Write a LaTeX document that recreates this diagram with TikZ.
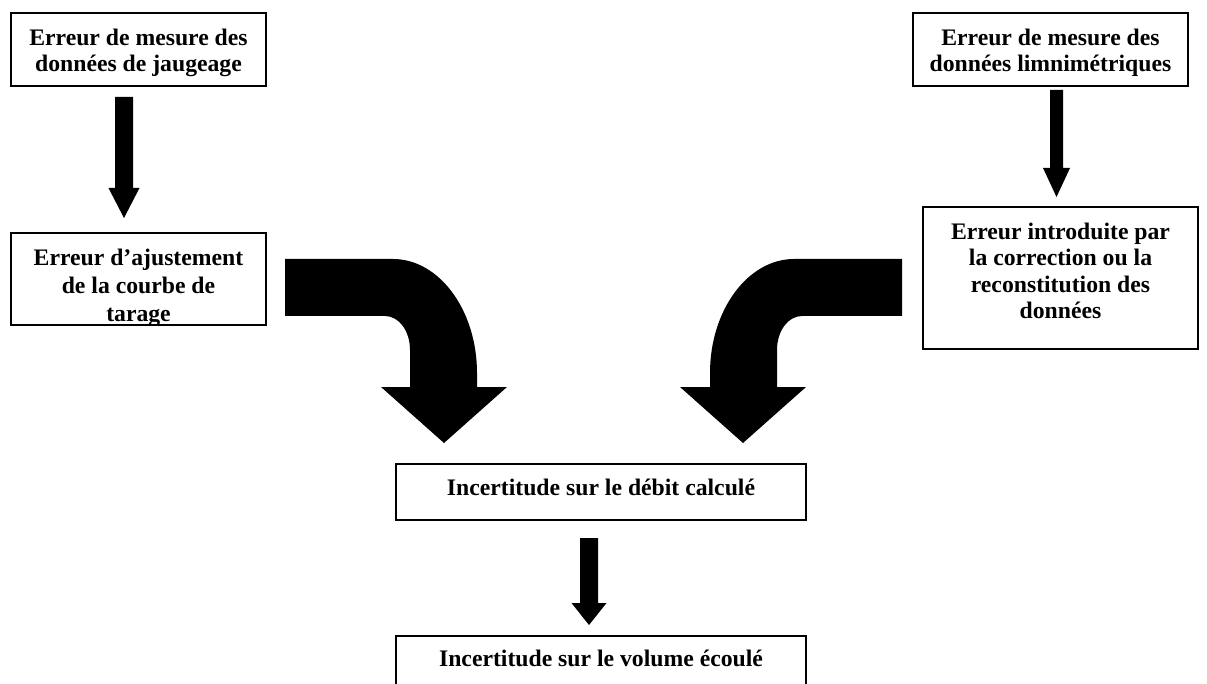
\documentclass[tikz,border=0pt]{standalone}
\usepackage{fontspec}
\setmainfont{Liberation Serif}
\newcommand\blkarrow[6]{\fill (#1-#5,#2) -- (#1+#5,#2) -- (#1+#5,#3) -- (#1+#6,#3) -- (#1,#4) -- (#1-#6,#3) -- (#1-#5,#3) -- cycle;}
\begin{document}
\begin{tikzpicture}[x=1pt,y=-1pt,
  box/.style={draw=black, line width=1.6pt, inner sep=0pt, outer sep=0pt, anchor=north west},
  txt/.style={font=\fontsize{23.7}{26.5}\selectfont\bfseries, align=center, inner sep=0pt, anchor=north}]
\clip (0,0) rectangle (1207,684);
\fill[white] (0,0) rectangle (1207,684);

% boxes
\node[box, minimum width=255pt, minimum height=73pt] (A) at (11,13) {};
\node[txt] (At) at ([yshift=-13.45pt]A.north) {\strut Erreur de mesure des\\données de jaugeage};

\node[box, minimum width=255pt, minimum height=92pt] (B) at (11,233) {};
\begin{scope}
  \clip (B.south west) rectangle (B.north east);
  \node[txt, font=\fontsize{23.7}{28}\selectfont\bfseries] (Bt) at ([yshift=-12.4pt]B.north) {\strut Erreur d’ajustement\\de la courbe de\\tarage};
\end{scope}
\draw[line width=1.6pt] (B.south west) rectangle (B.north east);

\node[box, minimum width=275pt, minimum height=73pt] (C) at (913,13) {};
\node[txt] (Ct) at ([yshift=-13.45pt]C.north) {\strut Erreur de mesure des\\données limnimétriques};

\node[box, minimum width=275pt, minimum height=142pt] (D) at (923,207) {};
\node[txt] (Dt) at ([yshift=-13.45pt]D.north) {\strut Erreur introduite par\\la correction ou la\\reconstitution des\\données};

\node[box, minimum width=410pt, minimum height=56pt] (E) at (396,464) {};
\node[txt] (Et) at ([yshift=-12.45pt]E.north) {\strut Incertitude sur le débit calculé};

\node[box, minimum width=410pt, minimum height=90pt] (F) at (396,636) {};
\node[txt] (Ft) at ([yshift=-11.45pt]F.north) {\strut Incertitude sur le volume écoulé};

% straight block arrows
\blkarrow{124}{97}{188}{218}{9}{15.5}
\blkarrow{1056.5}{90}{168}{197}{6.5}{13.5}
\blkarrow{589}{538}{603}{625}{9}{17.5}

% bent block arrows
\fill (285,259) -- (393,259) .. controls (439,259) and (477,310) .. (477,373)
  -- (477,387) -- (507,387) -- (444,443) -- (381,387) -- (410,387) -- (410,350)
  .. controls (410,331) and (399,316) .. (385,316) -- (285,316) -- cycle;
\fill (902,259) -- (794,259) .. controls (748,259) and (710,310) .. (710,373)
  -- (710,387) -- (680,387) -- (743,443) -- (806,387) -- (777,387) -- (777,350)
  .. controls (777,331) and (788,316) .. (802,316) -- (902,316) -- cycle;
\end{tikzpicture}
\end{document}
